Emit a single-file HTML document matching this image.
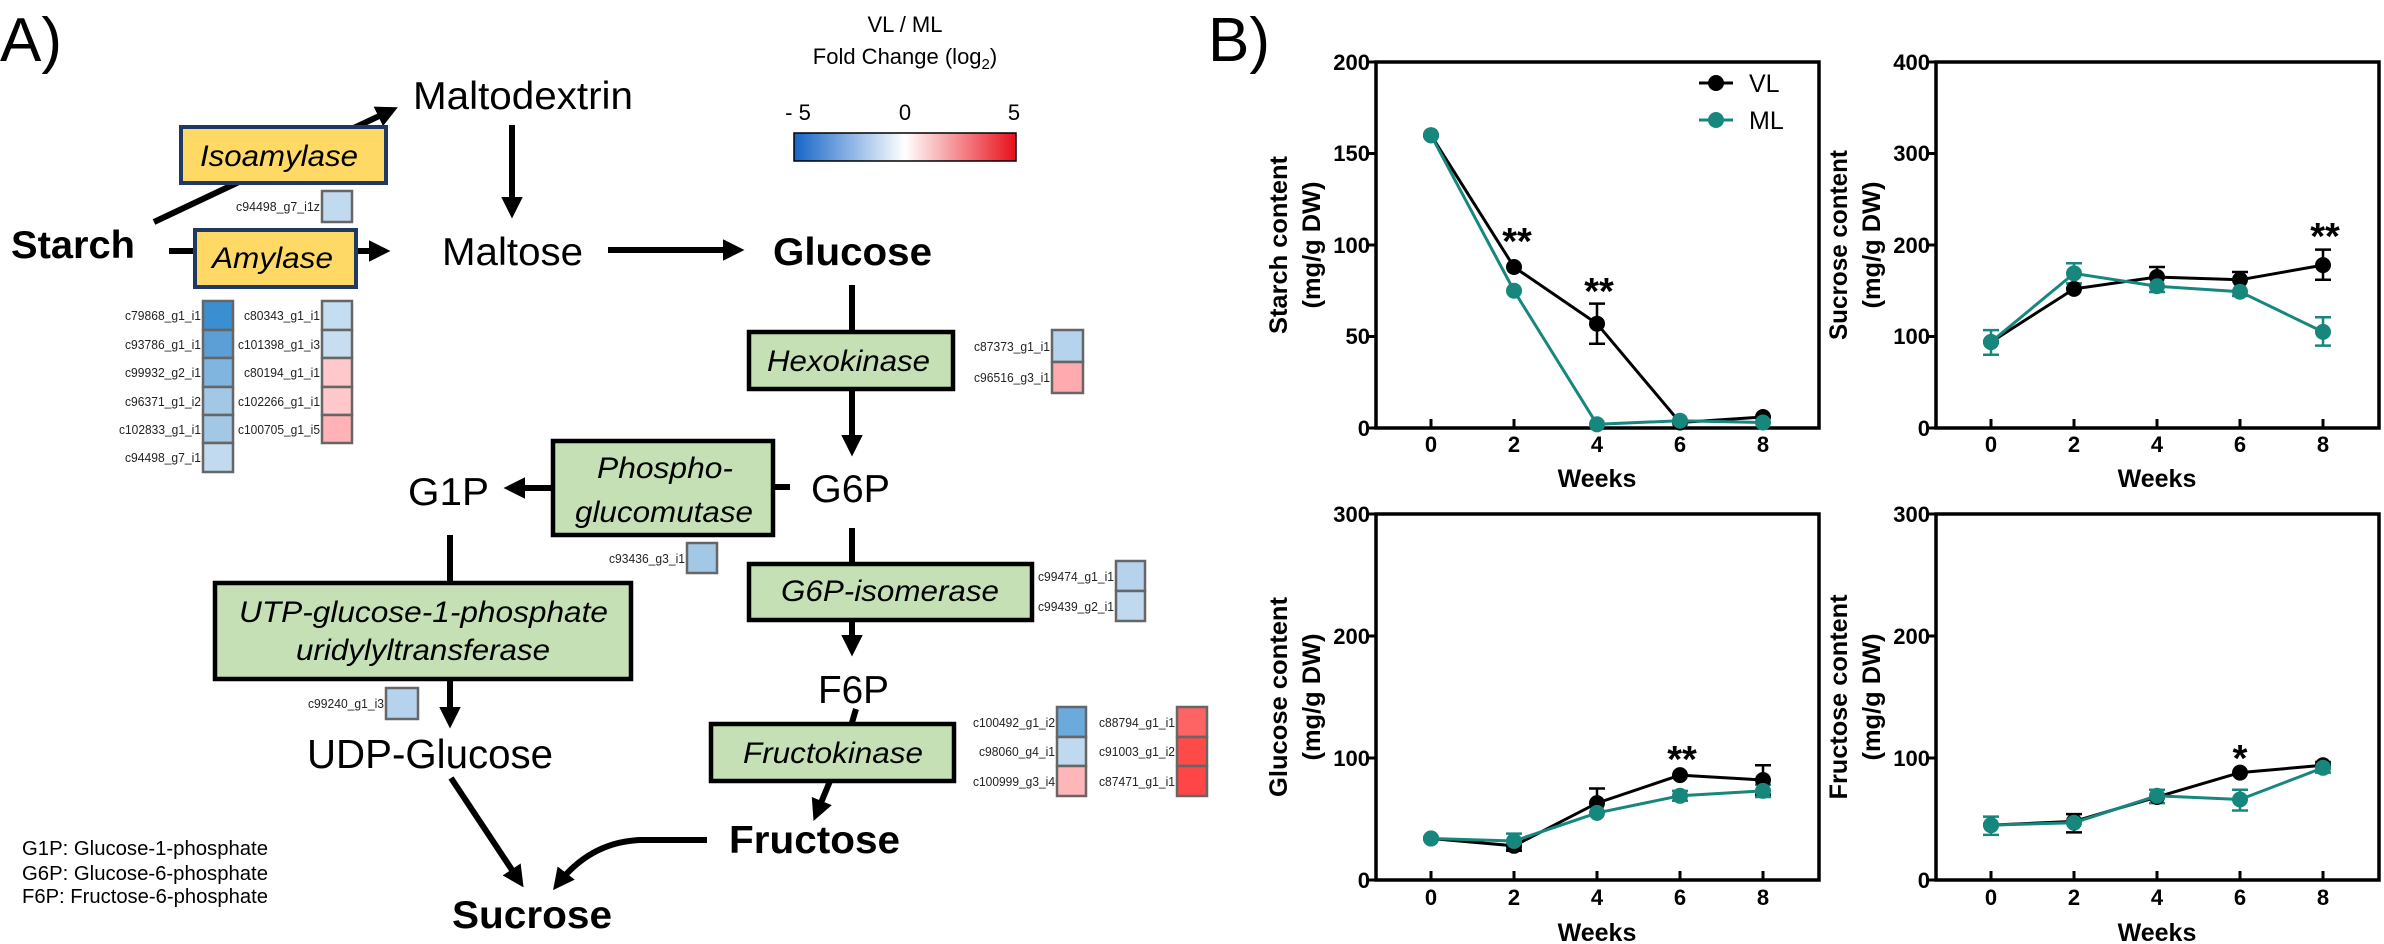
<!DOCTYPE html>
<html><head><meta charset="utf-8"><style>
html,body{margin:0;padding:0;background:#fff;}
svg{display:block;font-family:"Liberation Sans",Arial,sans-serif;}
</style></head><body>
<svg width="2384" height="944" viewBox="0 0 2384 944" xmlns="http://www.w3.org/2000/svg">
<defs>
<marker id="ah" viewBox="0 0 10 10" refX="7" refY="5" markerWidth="3.6" markerHeight="3.6" orient="auto" markerUnits="strokeWidth">
<path d="M0,0 L10,5 L0,10 z" fill="#000"/></marker>
<linearGradient id="cb" x1="0" x2="1" y1="0" y2="0">
<stop offset="0" stop-color="#1565c8"/><stop offset="0.5" stop-color="#ffffff"/><stop offset="1" stop-color="#e8101a"/></linearGradient>
</defs>

<!-- ============ PANEL A ============ -->
<text x="0" y="61" font-size="62">A)</text>

<!-- arrows -->
<g stroke="#000" stroke-width="6" fill="none">
<line x1="154" y1="222" x2="392" y2="110" marker-end="url(#ah)"/>
<line x1="512" y1="125" x2="512" y2="212" marker-end="url(#ah)"/>
<line x1="169" y1="251" x2="384" y2="251" marker-end="url(#ah)"/>
<line x1="608" y1="250" x2="738" y2="250" marker-end="url(#ah)"/>
<line x1="852" y1="285" x2="852" y2="334"/>
<line x1="852" y1="389" x2="852" y2="450" marker-end="url(#ah)"/>
<line x1="852" y1="528" x2="852" y2="566"/>
<line x1="852" y1="620" x2="852" y2="650" marker-end="url(#ah)"/>
<line x1="856" y1="709" x2="851" y2="726"/>
<line x1="830" y1="781" x2="816" y2="815" marker-end="url(#ah)"/>
<line x1="773" y1="487" x2="790" y2="487"/>
<line x1="556" y1="488" x2="510" y2="488" marker-end="url(#ah)"/>
<line x1="450" y1="535" x2="450" y2="585"/>
<line x1="450" y1="679" x2="450" y2="722" marker-end="url(#ah)"/>
<line x1="451" y1="778" x2="520" y2="882" marker-end="url(#ah)"/>
<path d="M707,840 L640,840 Q590,842 557,885" marker-end="url(#ah)"/>
</g>

<!-- yellow boxes -->
<rect x="181" y="127" width="205" height="56" fill="#ffd966" stroke="#1f3864" stroke-width="4"/>
<text x="200" y="166" font-size="30" font-style="italic" textLength="158" lengthAdjust="spacingAndGlyphs">Isoamylase</text>
<rect x="195" y="230" width="161" height="57" fill="#ffd966" stroke="#1f3864" stroke-width="4"/>
<text x="212" y="268" font-size="30" font-style="italic" textLength="121" lengthAdjust="spacingAndGlyphs">Amylase</text>

<!-- green boxes -->
<g fill="#c5e0b4" stroke="#000" stroke-width="4.5">
<rect x="749" y="332" width="204" height="57"/>
<rect x="553" y="441" width="220" height="94"/>
<rect x="749" y="564" width="283" height="56"/>
<rect x="215" y="583" width="416" height="96"/>
<rect x="711" y="724" width="243" height="57"/>
</g>
<g font-size="30" font-style="italic">
<text x="767" y="371" textLength="163" lengthAdjust="spacingAndGlyphs">Hexokinase</text>
<text x="597" y="478" textLength="136" lengthAdjust="spacingAndGlyphs">Phospho-</text>
<text x="575" y="522" textLength="178" lengthAdjust="spacingAndGlyphs">glucomutase</text>
<text x="781" y="601" textLength="218" lengthAdjust="spacingAndGlyphs">G6P-isomerase</text>
<text x="239" y="622" textLength="369" lengthAdjust="spacingAndGlyphs">UTP-glucose-1-phosphate</text>
<text x="296" y="660" textLength="254" lengthAdjust="spacingAndGlyphs">uridylyltransferase</text>
<text x="743" y="763" textLength="180" lengthAdjust="spacingAndGlyphs">Fructokinase</text>
</g>

<!-- metabolites -->
<g font-size="39">
<text x="413" y="109" textLength="220" lengthAdjust="spacingAndGlyphs">Maltodextrin</text>
<text x="442" y="265" textLength="141" lengthAdjust="spacingAndGlyphs">Maltose</text>
<text x="811" y="502" textLength="79" lengthAdjust="spacingAndGlyphs">G6P</text>
<text x="408" y="505" textLength="81" lengthAdjust="spacingAndGlyphs">G1P</text>
<text x="818" y="703" textLength="71" lengthAdjust="spacingAndGlyphs">F6P</text>
<text x="307" y="768" font-size="41" textLength="246" lengthAdjust="spacingAndGlyphs">UDP-Glucose</text>
</g>
<g font-size="39" font-weight="bold">
<text x="11" y="258" textLength="124" lengthAdjust="spacingAndGlyphs">Starch</text>
<text x="773" y="265" textLength="159" lengthAdjust="spacingAndGlyphs">Glucose</text>
<text x="729" y="853" textLength="171" lengthAdjust="spacingAndGlyphs">Fructose</text>
<text x="452" y="928" textLength="160" lengthAdjust="spacingAndGlyphs">Sucrose</text>
</g>

<!-- legend abbreviations -->
<g font-size="20">
<text x="22" y="855" textLength="246" lengthAdjust="spacingAndGlyphs">G1P: Glucose-1-phosphate</text>
<text x="22" y="880" textLength="246" lengthAdjust="spacingAndGlyphs">G6P: Glucose-6-phosphate</text>
<text x="22" y="903" textLength="246" lengthAdjust="spacingAndGlyphs">F6P: Fructose-6-phosphate</text>
</g>

<!-- colour bar -->
<text x="905" y="32" font-size="22" text-anchor="middle">VL / ML</text>
<text x="905" y="64" font-size="22" text-anchor="middle">Fold Change (log<tspan font-size="15" dy="5">2</tspan><tspan dy="-5">)</tspan></text>
<text x="798" y="120" font-size="22" text-anchor="middle">- 5</text>
<text x="905" y="120" font-size="22" text-anchor="middle">0</text>
<text x="1014" y="120" font-size="22" text-anchor="middle">5</text>
<rect x="794" y="133" width="222" height="28" fill="url(#cb)" stroke="#000" stroke-width="1.5"/>

<!-- heat cells -->
<g stroke="#666" stroke-width="2.5">
<rect x="322" y="191" width="30" height="31" fill="#c2daef"/>
<rect x="203" y="301" width="30" height="29" fill="#3a8fd0"/>
<rect x="203" y="330" width="30" height="28" fill="#5b9fd6"/>
<rect x="203" y="358" width="30" height="29" fill="#80b5e0"/>
<rect x="203" y="387" width="30" height="28" fill="#a3c8e6"/>
<rect x="203" y="415" width="30" height="28" fill="#a3c8e6"/>
<rect x="203" y="443" width="30" height="29" fill="#c2daef"/>
<rect x="322" y="301" width="30" height="29" fill="#c5ddf0"/>
<rect x="322" y="330" width="30" height="28" fill="#c8def0"/>
<rect x="322" y="358" width="30" height="29" fill="#ffc9cc"/>
<rect x="322" y="387" width="30" height="28" fill="#ffc9cc"/>
<rect x="322" y="415" width="30" height="28" fill="#ffb3b6"/>
<rect x="1052" y="330" width="31" height="32" fill="#b5d3ec"/>
<rect x="1052" y="362" width="31" height="31" fill="#ffaaae"/>
<rect x="687" y="543" width="30" height="30" fill="#a3c8e6"/>
<rect x="1116" y="561" width="29" height="30" fill="#b5d3ec"/>
<rect x="1116" y="591" width="29" height="30" fill="#c0d9ee"/>
<rect x="386" y="688" width="32" height="31" fill="#b5d3ec"/>
<rect x="1057" y="707" width="29" height="30" fill="#6aaadc"/>
<rect x="1057" y="737" width="29" height="29" fill="#c0d9ee"/>
<rect x="1057" y="766" width="29" height="30" fill="#ffb6b9"/>
<rect x="1177" y="707" width="30" height="30" fill="#ff6464"/>
<rect x="1177" y="737" width="30" height="29" fill="#ff4a4a"/>
<rect x="1177" y="766" width="30" height="30" fill="#ff4545"/>
</g>
<g font-size="13" text-anchor="end" fill="#222">
<text x="320" y="211" textLength="84" lengthAdjust="spacingAndGlyphs">c94498_g7_i1z</text>
<text x="201" y="320" textLength="76" lengthAdjust="spacingAndGlyphs">c79868_g1_i1</text>
<text x="201" y="349" textLength="76" lengthAdjust="spacingAndGlyphs">c93786_g1_i1</text>
<text x="201" y="377" textLength="76" lengthAdjust="spacingAndGlyphs">c99932_g2_i1</text>
<text x="201" y="406" textLength="76" lengthAdjust="spacingAndGlyphs">c96371_g1_i2</text>
<text x="201" y="434" textLength="82" lengthAdjust="spacingAndGlyphs">c102833_g1_i1</text>
<text x="201" y="462" textLength="76" lengthAdjust="spacingAndGlyphs">c94498_g7_i1</text>
<text x="320" y="320" textLength="76" lengthAdjust="spacingAndGlyphs">c80343_g1_i1</text>
<text x="320" y="349" textLength="82" lengthAdjust="spacingAndGlyphs">c101398_g1_i3</text>
<text x="320" y="377" textLength="76" lengthAdjust="spacingAndGlyphs">c80194_g1_i1</text>
<text x="320" y="406" textLength="82" lengthAdjust="spacingAndGlyphs">c102266_g1_i1</text>
<text x="320" y="434" textLength="82" lengthAdjust="spacingAndGlyphs">c100705_g1_i5</text>
<text x="1050" y="351" textLength="76" lengthAdjust="spacingAndGlyphs">c87373_g1_i1</text>
<text x="1050" y="382" textLength="76" lengthAdjust="spacingAndGlyphs">c96516_g3_i1</text>
<text x="685" y="563" textLength="76" lengthAdjust="spacingAndGlyphs">c93436_g3_i1</text>
<text x="1114" y="581" textLength="76" lengthAdjust="spacingAndGlyphs">c99474_g1_i1</text>
<text x="1114" y="611" textLength="76" lengthAdjust="spacingAndGlyphs">c99439_g2_i1</text>
<text x="384" y="708" textLength="76" lengthAdjust="spacingAndGlyphs">c99240_g1_i3</text>
<text x="1055" y="727" textLength="82" lengthAdjust="spacingAndGlyphs">c100492_g1_i2</text>
<text x="1055" y="756" textLength="76" lengthAdjust="spacingAndGlyphs">c98060_g4_i1</text>
<text x="1055" y="786" textLength="82" lengthAdjust="spacingAndGlyphs">c100999_g3_i4</text>
<text x="1175" y="727" textLength="76" lengthAdjust="spacingAndGlyphs">c88794_g1_i1</text>
<text x="1175" y="756" textLength="76" lengthAdjust="spacingAndGlyphs">c91003_g1_i2</text>
<text x="1175" y="786" textLength="76" lengthAdjust="spacingAndGlyphs">c87471_g1_i1</text>
</g>

<!-- ============ PANEL B ============ -->
<text x="1208" y="61" font-size="62">B)</text>

<!-- frames -->
<g fill="none" stroke="#000" stroke-width="3.5">
<rect x="1376" y="62" width="443" height="366"/>
<rect x="1936" y="62" width="443" height="366"/>
<rect x="1376" y="514" width="443" height="366"/>
<rect x="1936" y="514" width="443" height="366"/>
</g>
<!-- ticks -->
<g stroke="#000" stroke-width="3">
<path d="M1431,428v-9M1514,428v-9M1597,428v-9M1680,428v-9M1763,428v-9"/>
<path d="M1991,428v-9M2074,428v-9M2157,428v-9M2240,428v-9M2323,428v-9"/>
<path d="M1431,880v-9M1514,880v-9M1597,880v-9M1680,880v-9M1763,880v-9"/>
<path d="M1991,880v-9M2074,880v-9M2157,880v-9M2240,880v-9M2323,880v-9"/>
<path d="M1376,428h-7M1376,336.5h-7M1376,245h-7M1376,153.5h-7M1376,62h-7"/>
<path d="M1936,428h-7M1936,336.5h-7M1936,245h-7M1936,153.5h-7M1936,62h-7"/>
<path d="M1376,880h-7M1376,758h-7M1376,636h-7M1376,514h-7"/>
<path d="M1936,880h-7M1936,758h-7M1936,636h-7M1936,514h-7"/>
</g>
<!-- y tick labels -->
<g font-size="22" font-weight="bold" text-anchor="end">
<text x="1370" y="436">0</text><text x="1370" y="344">50</text><text x="1370" y="253">100</text><text x="1370" y="161">150</text><text x="1370" y="70">200</text>
<text x="1930" y="436">0</text><text x="1930" y="344">100</text><text x="1930" y="253">200</text><text x="1930" y="161">300</text><text x="1930" y="70">400</text>
<text x="1370" y="888">0</text><text x="1370" y="766">100</text><text x="1370" y="644">200</text><text x="1370" y="522">300</text>
<text x="1930" y="888">0</text><text x="1930" y="766">100</text><text x="1930" y="644">200</text><text x="1930" y="522">300</text>
</g>
<!-- x tick labels -->
<g font-size="22" font-weight="bold" text-anchor="middle">
<text x="1431" y="452">0</text><text x="1514" y="452">2</text><text x="1597" y="452">4</text><text x="1680" y="452">6</text><text x="1763" y="452">8</text>
<text x="1991" y="452">0</text><text x="2074" y="452">2</text><text x="2157" y="452">4</text><text x="2240" y="452">6</text><text x="2323" y="452">8</text>
<text x="1431" y="905">0</text><text x="1514" y="905">2</text><text x="1597" y="905">4</text><text x="1680" y="905">6</text><text x="1763" y="905">8</text>
<text x="1991" y="905">0</text><text x="2074" y="905">2</text><text x="2157" y="905">4</text><text x="2240" y="905">6</text><text x="2323" y="905">8</text>
</g>
<!-- x titles -->
<g font-size="25" font-weight="bold" text-anchor="middle">
<text x="1597" y="487">Weeks</text><text x="2157" y="487">Weeks</text>
<text x="1597" y="941">Weeks</text><text x="2157" y="941">Weeks</text>
</g>
<!-- y titles -->
<g font-size="25" font-weight="bold" text-anchor="middle">
<text transform="translate(1287,245) rotate(-90)" textLength="178" lengthAdjust="spacingAndGlyphs">Starch content</text>
<text transform="translate(1320,245) rotate(-90)" textLength="127" lengthAdjust="spacingAndGlyphs">(mg/g DW)</text>
<text transform="translate(1847,245) rotate(-90)" textLength="190" lengthAdjust="spacingAndGlyphs">Sucrose content</text>
<text transform="translate(1880,245) rotate(-90)" textLength="127" lengthAdjust="spacingAndGlyphs">(mg/g DW)</text>
<text transform="translate(1287,697) rotate(-90)" textLength="200" lengthAdjust="spacingAndGlyphs">Glucose content</text>
<text transform="translate(1320,697) rotate(-90)" textLength="127" lengthAdjust="spacingAndGlyphs">(mg/g DW)</text>
<text transform="translate(1847,697) rotate(-90)" textLength="205" lengthAdjust="spacingAndGlyphs">Fructose content</text>
<text transform="translate(1880,697) rotate(-90)" textLength="127" lengthAdjust="spacingAndGlyphs">(mg/g DW)</text>
</g>

<!-- legend -->
<line x1="1699" y1="83" x2="1733" y2="83" stroke="#000" stroke-width="3"/>
<circle cx="1716" cy="83" r="8" fill="#000"/>
<text x="1749" y="92" font-size="25">VL</text>
<line x1="1699" y1="120" x2="1733" y2="120" stroke="#17877e" stroke-width="3"/>
<circle cx="1716" cy="120" r="8" fill="#17877e"/>
<text x="1749" y="129" font-size="25">ML</text>

<!-- error bars -->
<g stroke="#000" stroke-width="2.5" fill="none">
<path d="M1597,343.8V303.6M1589,343.8h16M1589,303.6h16"/>
<path d="M2323,279.8V249.6M2315,279.8h16M2315,249.6h16"/>
<path d="M2157,282V267M2149,267h16M2240,284V272M2232,272h16"/>
<path d="M1514,850.7V841M1506,850.7h16"/>
<path d="M1597,803V788.5M1589,788.5h16"/>
<path d="M1763,794.6V765.3M1755,794.6h16M1755,765.3h16"/>
<path d="M2074,832.4V814.1M2066,832.4h16M2066,814.1h16"/>
<path d="M2323,769V762M2315,762h16"/>
</g>
<g stroke="#17877e" stroke-width="2.5" fill="none">
<path d="M1991,354.8V330.1M1983,354.8h16M1983,330.1h16"/>
<path d="M2074,283.4V263.3M2066,283.4h16M2066,263.3h16"/>
<path d="M2157,292V281M2149,292h16M2240,296V287M2232,296h16"/>
<path d="M2323,345.6V317.3M2315,345.6h16M2315,317.3h16"/>
<path d="M1514,848.3V833.6M1506,848.3h16M1506,833.6h16"/>
<path d="M1680,800.7V790.9M1672,800.7h16M1672,790.9h16"/>
<path d="M1763,797V784.8M1755,797h16M1755,784.8h16"/>
<path d="M1991,834.9V816.6M1983,834.9h16M1983,816.6h16"/>
<path d="M2157,803.1V789.7M2149,803.1h16M2149,789.7h16"/>
<path d="M2240,810.5V789.7M2232,810.5h16M2232,789.7h16"/>
<path d="M2323,772.6V762.9M2315,772.6h16M2315,762.9h16"/>
</g>

<!-- VL series -->
<g stroke="#000" stroke-width="3" fill="none">
<polyline points="1431,135.2 1514,267 1597,323.7 1680,422.5 1763,417"/>
<polyline points="1991,342 2074,288.9 2157,277 2240,279.8 2323,265.1"/>
<polyline points="1431,838.5 1514,845.8 1597,803.1 1680,775.1 1763,780"/>
<polyline points="1991,825.1 2074,821.4 2157,797 2240,772.6 2323,765.3"/>
</g>
<g fill="#000">
<circle cx="1431" cy="135.2" r="8"/><circle cx="1514" cy="267" r="8"/><circle cx="1597" cy="323.7" r="8"/><circle cx="1680" cy="422.5" r="8"/><circle cx="1763" cy="417" r="8"/>
<circle cx="1991" cy="342" r="8"/><circle cx="2074" cy="288.9" r="8"/><circle cx="2157" cy="277" r="8"/><circle cx="2240" cy="279.8" r="8"/><circle cx="2323" cy="265.1" r="8"/>
<circle cx="1431" cy="838.5" r="8"/><circle cx="1514" cy="845.8" r="8"/><circle cx="1597" cy="803.1" r="8"/><circle cx="1680" cy="775.1" r="8"/><circle cx="1763" cy="780" r="8"/>
<circle cx="1991" cy="825.1" r="8"/><circle cx="2074" cy="821.4" r="8"/><circle cx="2157" cy="797" r="8"/><circle cx="2240" cy="772.6" r="8"/><circle cx="2323" cy="765.3" r="8"/>
</g>
<!-- ML series -->
<g stroke="#17877e" stroke-width="3" fill="none">
<polyline points="1431,135.2 1514,290.7 1597,424.3 1680,420.7 1763,422.5"/>
<polyline points="1991,342 2074,273.4 2157,286.2 2240,291.7 2323,331.9"/>
<polyline points="1431,838.5 1514,841 1597,812.9 1680,795.8 1763,790.9"/>
<polyline points="1991,825.1 2074,822.7 2157,795.8 2240,799.5 2323,767.8"/>
</g>
<g fill="#17877e">
<circle cx="1431" cy="135.2" r="8"/><circle cx="1514" cy="290.7" r="8"/><circle cx="1597" cy="424.3" r="8"/><circle cx="1680" cy="420.7" r="8"/><circle cx="1763" cy="422.5" r="8"/>
<circle cx="1991" cy="342" r="8"/><circle cx="2074" cy="273.4" r="8"/><circle cx="2157" cy="286.2" r="8"/><circle cx="2240" cy="291.7" r="8"/><circle cx="2323" cy="331.9" r="8"/>
<circle cx="1431" cy="838.5" r="8"/><circle cx="1514" cy="841" r="8"/><circle cx="1597" cy="812.9" r="8"/><circle cx="1680" cy="795.8" r="8"/><circle cx="1763" cy="790.9" r="8"/>
<circle cx="1991" cy="825.1" r="8"/><circle cx="2074" cy="822.7" r="8"/><circle cx="2157" cy="795.8" r="8"/><circle cx="2240" cy="799.5" r="8"/><circle cx="2323" cy="767.8" r="8"/>
</g>

<!-- significance -->
<g font-size="38" font-weight="bold" text-anchor="middle">
<text x="1517" y="254">**</text>
<text x="1599" y="304">**</text>
<text x="2325" y="249">**</text>
<text x="1682" y="772">**</text>
<text x="2240" y="771">*</text>
</g>
</svg>
</body></html>
